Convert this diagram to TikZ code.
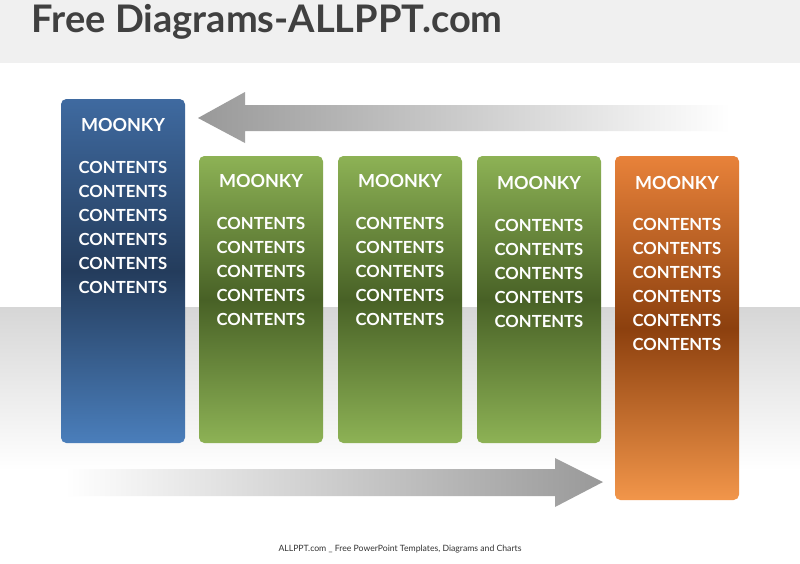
\documentclass[tikz,border=0pt]{standalone}
\usepackage{fontspec}
\setmainfont{Lato}
\definecolor{bT}{RGB}{63,106,160}\definecolor{bM}{RGB}{36,60,92}\definecolor{bB}{RGB}{74,126,187}
\definecolor{gT}{RGB}{141,178,85}\definecolor{gM}{RGB}{72,97,38}
\definecolor{oT}{RGB}{232,130,58}\definecolor{oM}{RGB}{140,64,14}\definecolor{oB}{RGB}{242,150,74}
\begin{document}
\begin{tikzpicture}[x=0.75pt,y=-0.75pt,
  box/.style={rounded corners=4pt,draw=none},
  hd/.style={text=white,font=\bfseries\fontsize{13.5}{15}\selectfont,anchor=center},
  ct/.style={text=white,font=\bfseries\fontsize{12.5}{18}\selectfont,align=center,anchor=north}]
\useasboundingbox (0,0) rectangle (800,564);
\fill[white] (0,0) rectangle (800,564);
\fill[black!6] (0,0) rectangle (800,63);
\node[anchor=west,text=black!75,font=\bfseries\fontsize{28.5}{30}\selectfont] (title) at (27,22) {Free Diagrams-ALLPPT.com};
\shade[top color=black!16,bottom color=white] (0,307) rectangle (800,470);
% arrows
\shade[left color=black!40,right color=white] (198,118) -- (245,92) -- (245,105) -- (730,105) -- (730,131) -- (245,131) -- (245,143) -- cycle;
\shade[left color=white,right color=black!40] (603,482) -- (555,458) -- (555,469) -- (65,469) -- (65,496) -- (555,496) -- (555,507) -- cycle;
% boxes
\shade[box,top color=bT,bottom color=bB,middle color=bM] (61,99) rectangle (185,443);
\node[hd] (h1) at (123,125) {MOONKY};
\node[ct] (c1) at (123,157) {CONTENTS\\CONTENTS\\CONTENTS\\CONTENTS\\CONTENTS\\CONTENTS};
\foreach \x/\n/\d in {199/2/0,338/3/0,477/4/2}{
\shade[box,top color=gT,bottom color=gT,middle color=gM] (\x,156) rectangle (\x+124,443);
\node[hd] (h\n) at (\x+62,181+\d) {MOONKY};
\node[ct] (c\n) at (\x+62,213+\d) {CONTENTS\\CONTENTS\\CONTENTS\\CONTENTS\\CONTENTS};
}
\shade[box,top color=oT,bottom color=oB,middle color=oM] (615,156) rectangle (739,500);
\node[hd] (h5) at (677,183) {MOONKY};
\node[ct] (c5) at (677,214) {CONTENTS\\CONTENTS\\CONTENTS\\CONTENTS\\CONTENTS\\CONTENTS};
\node[text=black!80,font=\fontsize{6.5}{8}\selectfont] (foot) at (400,549) {ALLPPT.com \_ Free PowerPoint Templates, Diagrams and Charts};
\end{tikzpicture}
\end{document}
